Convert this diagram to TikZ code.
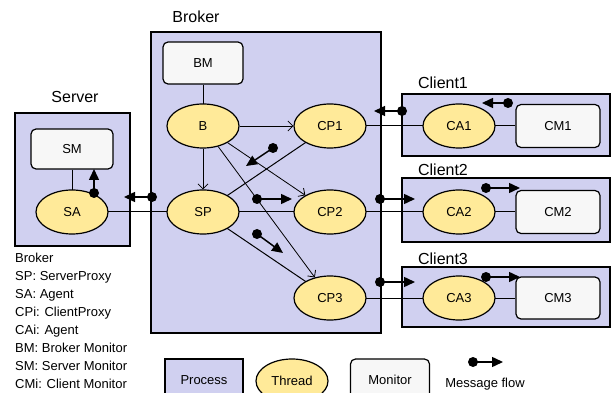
\documentclass[tikz,border=0pt]{standalone}
\usepackage{fontspec}
\setmainfont{Liberation Sans}
\usetikzlibrary{shapes.geometric,arrows.meta}
\definecolor{proc}{RGB}{208,208,240}
\definecolor{thr}{RGB}{255,234,153}
\definecolor{mon}{RGB}{247,247,247}
\tikzset{
  procbox/.style={rectangle, draw, line width=1.5pt, fill=proc, inner sep=0pt},
  thread/.style={ellipse, draw, line width=1.2pt, fill=thr, minimum width=72pt, minimum height=44pt, inner sep=0pt, font=\fontsize{13}{15}\selectfont},
  monbox/.style={rectangle, rounded corners=5pt, draw, line width=1.2pt, fill=mon, inner sep=0pt, font=\fontsize{13}{15}\selectfont},
  title/.style={inner sep=0pt, font=\fontsize{16}{18}\selectfont},
  keytext/.style={anchor=base west, inner sep=0pt, font=\fontsize{13}{15}\selectfont},
  link/.style={line width=1pt},
  call/.style={line width=0.8pt, -{Straight Barb[length=5pt,width=10pt]}},
  flow/.style={line width=1.5pt, -{Triangle[length=11pt,width=10pt]}},
}
\begin{document}
\begin{tikzpicture}[x=1pt,y=-1pt]
\useasboundingbox (0,0) rectangle (611,393);
\clip (0,0) rectangle (611,393);
% process boxes
\node[procbox, minimum width=115pt, minimum height=133pt] (server) at (72.5,179.5) {};
\node[procbox, minimum width=230pt, minimum height=301pt] (broker) at (266,182.5) {};
\node[procbox, minimum width=208pt, minimum height=62pt] (client1) at (506,125) {};
\node[procbox, minimum width=208pt, minimum height=64pt] (client2) at (506,210) {};
\node[procbox, minimum width=208pt, minimum height=60pt] (client3) at (506,297) {};
% titles
\node[title] (tserver) at (75,97) {Server};
\node[title] (tbroker) at (196,17) {Broker};
\node[title] (tc1) at (443,83) {Client1};
\node[title] (tc2) at (443,170) {Client2};
\node[title] (tc3) at (443,259) {Client3};
% monitors
\node[monbox, minimum width=82pt, minimum height=40pt] (SM) at (72,149) {SM};
\node[monbox, minimum width=80pt, minimum height=42pt] (BM) at (203,63) {BM};
\node[monbox, minimum width=84pt, minimum height=43pt] (CM1) at (558,126) {CM1};
\node[monbox, minimum width=84pt, minimum height=43pt] (CM2) at (558,212) {CM2};
\node[monbox, minimum width=84pt, minimum height=42pt] (CM3) at (558,298) {CM3};
% thread coordinates
\coordinate (cSA) at (72,212);
\coordinate (cB) at (203,126);
\coordinate (cCP1) at (330,126);
\coordinate (cSP) at (203,212);
\coordinate (cCP2) at (330,212);
\coordinate (cCP3) at (330,298);
\coordinate (cCA1) at (459,126);
\coordinate (cCA2) at (459,212);
\coordinate (cCA3) at (459,298);
% connectors (under the threads)
\draw[link] (SM) -- (cSA);
\draw[link] (BM) -- (cB);
\draw[link] (cSA) -- (cSP);
\draw[link] (cSP) -- (cCP1);
\draw[link] (cSP) -- (cCP2);
\draw[link] (cSP) -- (cCP3);
\draw[link] (cCP1) -- (CM1);
\draw[link] (cCP2) -- (CM2);
\draw[link] (cCP3) -- (CM3);
% threads
\node[thread] (SA) at (cSA) {SA};
\node[thread] (B) at (cB) {B};
\node[thread] (CP1) at (cCP1) {CP1};
\node[thread] (SP) at (cSP) {SP};
\node[thread] (CP2) at (cCP2) {CP2};
\node[thread] (CP3) at (cCP3) {CP3};
\node[thread] (CA1) at (cCA1) {CA1};
\node[thread] (CA2) at (cCA2) {CA2};
\node[thread] (CA3) at (cCA3) {CA3};
% calls from B
\draw[call] (B) -- (CP1);
\draw[call] (B) -- (SP);
\draw[call] (B) -- (CP2);
\draw[call] (B) -- (CP3);
% message flows
\foreach \n/\a/\b in {1/{94,193}/{94,169}, 2/{152,197}/{124,197}, 3/{273,148}/{246,166},
  4/{257,199}/{292,199}, 5/{257,234}/{283,253}, 6/{402,111}/{374,111}, 7/{508,103}/{482,103},
  8/{380,199}/{415,199}, 9/{486,188}/{520,188}, 10/{380,282}/{415,282}, 11/{486,277}/{520,277},
  12/{473,362}/{503,362}}{
  \coordinate (fs\n) at (\a);
  \coordinate (fe\n) at (\b);
  \draw[flow] (fs\n) -- (fe\n);
  \fill (fs\n) circle (5pt);
}
% key text
\node[keytext] (k1) at (15,262) {Broker};
\node[keytext] (k2) at (15,280) {SP: ServerProxy};
\node[keytext] (k3) at (15,298) {SA: Agent};
\node[keytext] (k4) at (15,316) {CPi: ClientProxy};
\node[keytext] (k5) at (15,334) {CAi: Agent};
\node[keytext] (k6) at (15,352) {BM: Broker Monitor};
\node[keytext] (k7) at (15,370) {SM: Server Monitor};
\node[keytext] (k8) at (15,388) {CMi: Client Monitor};
% legend
\node[procbox, minimum width=78pt, minimum height=42pt, font=\fontsize{13}{15}\selectfont] (lproc) at (204,380) {Process};
\node[thread] (lthr) at (292,381) {Thread};
\node[monbox, minimum width=79pt, minimum height=42pt] (lmon) at (390,380) {Monitor};
\node[keytext, anchor=center] (lflow) at (485,384) {Message flow};
\end{tikzpicture}
\end{document}
